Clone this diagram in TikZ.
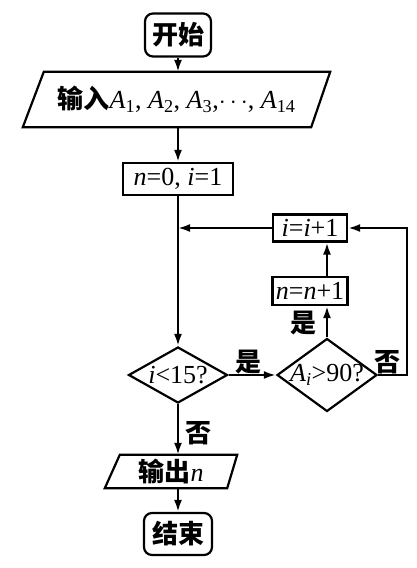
\documentclass[tikz,border=0pt]{standalone}
\usepackage{fontspec}
\setmainfont{Liberation Serif}
\newfontfamily\cjk{Noto Sans CJK SC}
\usetikzlibrary{shapes.geometric,arrows.meta}
% A with a subscript index
\newcommand\vA[1]{\textit{A}\textsubscript{#1}}

\begin{document}
\begin{tikzpicture}[x=1pt,y=-1pt,
  every node/.style={font=\fontsize{26}{28}\selectfont, inner sep=0pt},
  zh/.style={font=\cjk\bfseries\fontsize{26}{28}\selectfont},
  term/.style={draw, rounded corners=8pt, line width=2.2pt, minimum width=66pt, minimum height=43pt, zh},
  proc/.style={draw, line width=2.2pt},
  iobox/.style={draw=none, minimum width=#1},
  dec/.style={draw, diamond, line width=2.2pt},
  conn/.style={line width=2.2pt},
  outline/.style={line width=2.2pt, line join=miter},
  flow/.style={conn, -{Latex[length=12pt,width=8pt]}},
  lbl/.style={zh}
]
\useasboundingbox (0,0) rectangle (417,568);

% main column
\node[term] (start) at (178,35) {开始};
\node[iobox=307pt, minimum height=55pt] (in) at (176.5,99.5) {{\cjk\bfseries 输入}\vA{1}, \vA{2}, \vA{3},$\cdots$, \vA{14}};
\draw[outline] (in.south west) -- ([xshift=21pt]in.north west) -- (in.north east)
  -- ([xshift=-19pt]in.south east) -- cycle;
\node[proc, minimum width=110pt, minimum height=32pt] (init) at (178,179) {\textit{n}=0, \textit{i}=1};
\coordinate (join) at (178,228);
\node[dec, minimum width=99pt, minimum height=56pt] (c1) at (178,375) {};
\node (c1t) at (c1.center) {\textit{i}<15?};
\node[iobox=132pt, minimum height=33pt] (out) at (171,471.5) {{\cjk\bfseries 输出}\textit{n}};
\draw[outline] (out.south west) -- ([xshift=15pt]out.north west) -- (out.north east)
  -- ([xshift=-10pt]out.south east) -- cycle;
\node[term, minimum width=68pt, minimum height=42pt] (end) at (178,534) {结束};

% loop body
\node[dec, minimum width=100pt, minimum height=73pt] (c2) at (327,375) {};
\node (c2t) at (c2.center) {\vA{\textit{i}}>90?};
\node[proc, minimum width=75pt, minimum height=28pt] (incn) at (310,291) {\textit{n}=\textit{n}+1};
\node[proc, minimum width=74pt, minimum height=27pt] (inci) at (310,228) {\textit{i}=\textit{i}+1};
\coordinate (loop) at (407,375);

% connectors
\draw[flow] (start.south) -- (start.south |- in.north);
\draw[flow] (init.north |- in.south) -- (init.north);
\draw[conn] (init) -- (join);
\draw[flow] (join) -- (c1);
\draw[flow] (c1) -- (c2);
\draw[flow] (c2.north) -- (c2.north |- incn.south);
\draw[flow] (incn.north -| c2.north) -- (c2.north |- inci.south);
\draw[flow] (inci) -- (join);
\draw[flow] (c2.east) -- (loop) |- (inci.east);
\draw[flow] (c1.south) -- (c1.south |- out.north);
\draw[flow] (out.south -| end.north) -- (end.north);

% branch labels
\node[lbl] (yes1) at (248,362) {是};
\node[lbl] (yes2) at (303,323) {是};
\node[lbl] (no1) at (387,362) {否};
\node[lbl] (no2) at (198,433) {否};
\end{tikzpicture}
\end{document}
